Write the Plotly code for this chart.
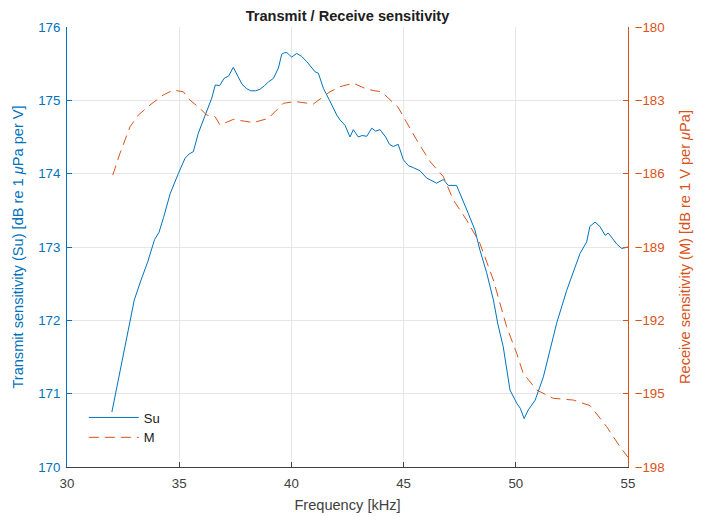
import plotly.graph_objects as go

# Transmit sensitivity Su [dB re 1 uPa per V]
su_freq = [32.0, 32.2, 32.5, 33.0, 33.3, 33.6, 33.9, 34.1, 34.3, 34.6, 34.96, 35.26, 35.45, 35.63, 35.85, 36.07,
           36.25, 36.45, 36.61, 36.8, 37.0, 37.2, 37.41, 37.6, 37.8, 38.0, 38.19, 38.4, 38.6, 38.8, 38.97, 39.2,
           39.42, 39.57, 39.7, 39.8, 40.01, 40.24, 40.45, 40.68, 40.9, 41.05, 41.2, 41.43, 41.7, 42.02, 42.17,
           42.39, 42.61, 42.76, 42.98, 43.15, 43.36, 43.58, 43.75, 43.95, 44.2, 44.37, 44.54, 44.76, 44.99,
           45.21, 45.45, 45.73, 46.03, 46.25, 46.47, 46.77, 46.99, 47.36, 47.59, 47.88, 48.18, 48.4, 48.7, 49.0,
           49.2, 49.44, 49.74, 50.04, 50.2, 50.37, 50.56, 50.86, 51.23, 51.5, 51.82, 52.27, 52.6, 52.86, 53.16,
           53.3, 53.53, 53.75, 53.98, 54.12, 54.3, 54.5, 54.72, 54.94, 55.0]
su_vals = [170.75, 171.05, 171.55, 172.28, 172.55, 172.8, 173.1, 173.2, 173.4, 173.73, 174.0, 174.21, 174.27, 174.3,
           174.55, 174.73, 174.85, 175.03, 175.21, 175.2, 175.3, 175.33, 175.45, 175.33, 175.22, 175.16, 175.13,
           175.13, 175.15, 175.2, 175.25, 175.3, 175.44, 175.63, 175.65, 175.65, 175.59, 175.64, 175.6, 175.53,
           175.45, 175.39, 175.37, 175.16, 175.0, 174.8, 174.73, 174.66, 174.5, 174.6, 174.5, 174.52, 174.51,
           174.62, 174.58, 174.6, 174.5, 174.4, 174.37, 174.4, 174.19, 174.11, 174.08, 174.04, 173.94, 173.9,
           173.87, 173.92, 173.84, 173.84, 173.66, 173.46, 173.23, 172.96, 172.65, 172.28, 171.95, 171.64,
           171.05, 170.87, 170.8, 170.66, 170.78, 170.91, 171.23, 171.55, 171.96, 172.41, 172.7, 172.91, 173.07,
           173.28, 173.34, 173.28, 173.16, 173.19, 173.12, 173.04, 172.98, 173.0, 173.0]

# Receive sensitivity M [dB re 1 V per uPa]
m_freq = [32.04, 32.36, 32.81, 33.18, 33.7, 34.29, 34.74, 35.18, 35.48, 35.93, 36.22, 36.6, 36.82, 37.41, 38.3,
          38.97, 39.64, 40.16, 40.98, 41.72, 42.17, 42.46, 42.76, 43.28, 43.65, 44.02, 44.39, 44.76, 44.99,
          45.58, 46.18, 46.77, 47.22, 47.81, 48.4, 49.0, 49.59, 50.04, 50.33, 50.93, 51.67, 52.56, 53.31,
          54.05, 54.64, 55.0]
m_vals = [-186.06, -185.17, -184.08, -183.6, -183.19, -182.78, -182.58, -182.65, -182.99, -183.33, -183.6,
          -183.67, -184.01, -183.78, -183.91, -183.74, -183.12, -183.05, -183.15, -182.65, -182.44, -182.37,
          -182.3, -182.51, -182.6, -182.65, -182.99, -183.29, -183.67, -184.62, -185.51, -186.12, -187.08,
          -187.9, -188.85, -190.35, -192.26, -193.35, -194.17, -194.85, -195.19, -195.26, -195.49, -196.35,
          -197.17, -197.6]

x_ticks = [30, 35, 40, 45, 50, 55]
left_ticks = [170, 171, 172, 173, 174, 175, 176]
right_ticks = [-198, -195, -192, -189, -186, -183, -180]

BLUE = "#0072BD"
ORANGE = "#D95319"
DARK = "#404040"
GRID = "#E6E6E6"
FONT = "Liberation Sans, Arial, sans-serif"

fig = go.Figure()
fig.add_trace(go.Scatter(x=su_freq, y=su_vals, name="Su", mode="lines",
                         line=dict(color=BLUE, width=1)))
fig.add_trace(go.Scatter(x=m_freq, y=m_vals, name="M", mode="lines", yaxis="y2",
                         line=dict(color=ORANGE, width=1, dash="10px,6px")))

fig.update_layout(
    width=696, height=509,
    margin=dict(l=59, r=76, t=19, b=50, autoexpand=False),
    paper_bgcolor="white", plot_bgcolor="white",
    font=dict(family=FONT, size=13, color=DARK),
    title=dict(text="<b>Transmit / Receive sensitivity</b>", x=0.5, xanchor="center",
               xref="paper", y=1, yref="paper", yanchor="bottom", pad=dict(b=6),
               font=dict(size=14.6, color="#202020")),
    xaxis=dict(range=[30, 55], tickvals=x_ticks, showgrid=True, gridcolor=GRID, gridwidth=1,
               showline=True, linecolor=DARK, linewidth=1, ticks="inside", ticklen=5,
               tickcolor=DARK, zeroline=False, tickfont=dict(size=13.3, color=DARK),
               ticklabelstandoff=4, automargin=False,
               title=dict(text="Frequency [kHz]", font=dict(size=14.6, color=DARK), standoff=9)),
    yaxis=dict(range=[170, 176], tickvals=left_ticks, showgrid=True, gridcolor=GRID, gridwidth=1,
               showline=True, linecolor=BLUE, linewidth=1, ticks="inside", ticklen=5,
               tickcolor=BLUE, zeroline=False, tickfont=dict(size=13.3, color=BLUE),
               ticklabelstandoff=3, automargin=False,
               title=dict(text="Transmit sensitivity (Su) [dB re 1 <i>μ</i>Pa per V]",
                          font=dict(size=14.6, color=BLUE), standoff=11)),
    yaxis2=dict(range=[-198, -180], tickvals=right_ticks, overlaying="y", side="right",
                showgrid=False, showline=True, linecolor=ORANGE, linewidth=1, ticks="inside",
                ticklen=5, tickcolor=ORANGE, zeroline=False, tickfont=dict(size=13.3, color=ORANGE),
                ticklabelstandoff=3, automargin=False,
                title=dict(text="Receive sensitivity (M) [dB re 1 V per <i>μ</i>Pa]",
                           font=dict(size=14.6, color=ORANGE), standoff=16)),
    legend=dict(x=0.03, y=0.033, xanchor="left", yanchor="bottom", bgcolor="rgba(255,255,255,0)",
                borderwidth=0, itemwidth=50, font=dict(size=13, color="#202020"),
                tracegroupgap=2),
    showlegend=True,
)

fig.write_html("out.html")
